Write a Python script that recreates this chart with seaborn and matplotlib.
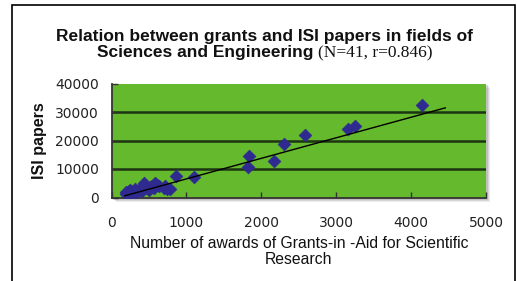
import numpy as np
import pandas as pd
import matplotlib
matplotlib.use("Agg")
import matplotlib.pyplot as plt
from matplotlib.patches import Rectangle
import seaborn as sns

# awards of Grants-in-Aid vs ISI papers
grants = [187, 200, 215, 231, 240, 253, 265, 280, 297, 310, 325, 340, 364, 378, 395,
          410, 431, 444, 460, 476, 495, 511, 540, 570, 587, 610, 640, 698, 711, 742,
          775, 857, 1102, 1822, 1831, 2165, 2302, 2582, 3155, 3253, 4143]
papers = [2050, 1200, 1700, 640, 2300, 2650, 1500, 2000, 1480, 2900, 2400, 1900, 2650, 2960, 3400,
          2200, 5000, 4300, 3700, 3250, 2800, 3530, 4100, 3300, 5000, 4500, 3900, 3250, 4130, 3000,
          2900, 7420, 7300, 10850, 14700, 12700, 18870, 22050, 23900, 25200, 32400]
x_ticks = [0, 1000, 2000, 3000, 4000, 5000]
y_ticks = [0, 10000, 20000, 30000, 40000]

# linear trend as drawn in the chart
trend_slope = 7.21
trend_intercept = -680
trend_range = [177, 4457]

df = pd.DataFrame({"grants": grants, "papers": papers})

W, H = 517, 281
fig = plt.figure(figsize=(W / 100, H / 100), dpi=100)
fig.patch.set_facecolor("white")

# figure frame (bottom edge outside the picture)
fig.patches.append(Rectangle((12 / W, -0.05), (515 - 12) / W, (H - 5) / H + 0.05,
                             transform=fig.transFigure, fill=False,
                             edgecolor="black", linewidth=1.2))

ax_l, ax_r, ax_t, ax_b = 111.5, 486, 83.5, 197.5
pos = [ax_l / W, (H - ax_b) / H, (ax_r - ax_l) / W, (ax_b - ax_t) / H]

# soft shadow behind the plot area
for off, a in [(4, 0.15), (3, 0.2), (2, 0.25)]:
    fig.patches.append(Rectangle(((ax_l + off) / W, (H - ax_b - off) / H), pos[2], pos[3],
                                 transform=fig.transFigure, facecolor="#808080",
                                 edgecolor="none", alpha=a, zorder=-5))

ax = fig.add_axes(pos)
ax.set_zorder(2)
ax.set_facecolor("#64b92c")

sns.scatterplot(data=df, x="grants", y="papers", marker="D", s=42, color="#2f2a8f",
                edgecolor="#2f2a8f", linewidth=0.5, ax=ax, zorder=3)

tx = np.array(trend_range)
ax.plot(tx, trend_slope * tx + trend_intercept, color="black", linewidth=1.0, zorder=4)

ax.set_xlim(x_ticks[0], x_ticks[-1])
ax.set_ylim(y_ticks[0], y_ticks[-1])
ax.set_xticks(x_ticks)
ax.set_yticks(y_ticks)
ax.grid(axis="y", color="#1d3513", linewidth=1.8)
ax.set_axisbelow(True)
gl = ax.yaxis.get_gridlines()
gl[0].set_visible(False)
gl[-1].set_visible(False)

for s in ["top", "right"]:
    ax.spines[s].set_visible(False)
for s in ["left", "bottom"]:
    ax.spines[s].set_color("#333333")
    ax.spines[s].set_linewidth(1.3)

ax.tick_params(axis="x", direction="in", length=4, width=1, color="#333333", pad=13,
               labelsize=10, labelcolor="#222222")
ax.tick_params(axis="y", direction="in", length=4, width=1, color="#333333", pad=9,
               labelsize=10, labelcolor="#222222")
for lab in ax.get_xticklabels() + ax.get_yticklabels():
    lab.set_family("DejaVu Sans")

ax.set_xlabel("Number of awards of Grants-in -Aid for Scientific\nResearch",
              family="Liberation Sans", fontsize=11.3, color="#111111", labelpad=5,
              linespacing=1.05)
ax.set_ylabel("ISI papers", family="Liberation Sans", fontweight="bold", fontsize=11.5,
              color="#111111", labelpad=6)

# two-line title, second line mixes sans bold and serif
fig.text(264.5 / W, 1 - 37 / H, "Relation between grants and ISI papers in fields of",
         ha="center", va="center", family="Liberation Sans", fontweight="bold",
         fontsize=12.5, color="#111111")
t1 = fig.text(0, 1 - 53 / H, "Sciences and Engineering ", ha="left", va="center",
              family="Liberation Sans", fontweight="bold", fontsize=12.5, color="#111111")
t2 = fig.text(0, 1 - 53 / H, "(N=41, r=0.846)", ha="left", va="center",
              family="Liberation Serif", fontsize=12.5, color="#111111")
fig.canvas.draw()
r = fig.canvas.get_renderer()
w1 = t1.get_window_extent(r).width
w2 = t2.get_window_extent(r).width
x0 = 264.5 - (w1 + w2) / 2
t1.set_x(x0 / W)
t2.set_x((x0 + w1) / W)

fig.savefig("out.png", dpi=100)
